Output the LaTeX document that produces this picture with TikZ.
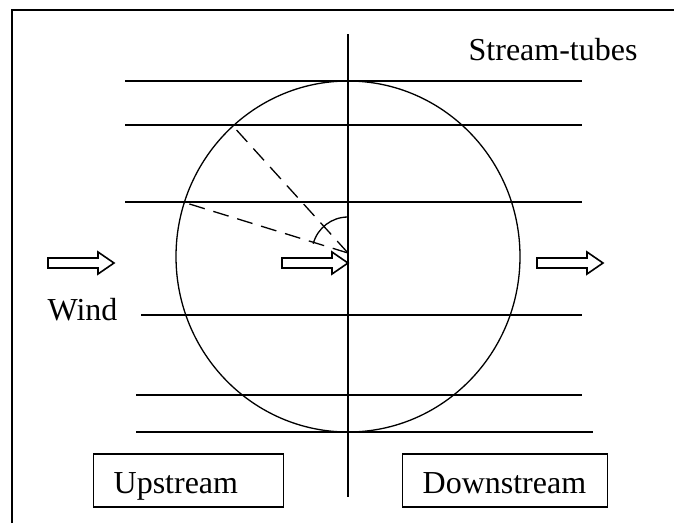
\documentclass[tikz,border=0pt]{standalone}
\usepackage{fontspec}
\setmainfont{Liberation Serif}
\begin{document}
\begin{tikzpicture}[x=1pt, y=-1pt, font=\fontsize{32}{38}\selectfont, line width=1.3pt, tube/.style={line width=1.4pt}, ray/.style={dash pattern=on 16pt off 9pt}, box/.style={draw, anchor=base west, inner xsep=20pt, inner ysep=0pt, text height=39pt, text depth=14pt, align=left}, flow/.pic={\draw[fill=white, line width=1.6pt] (0,-5) -- (50,-5) -- (50,-11) -- (66,0) -- (50,11) -- (50,5) -- (0,5) -- cycle;}]
\useasboundingbox (0,0) rectangle (674,523);
\draw[line width=1.8pt] (12,523) -- (12,10) -- (674,10);
\coordinate (rotor) at (348,256.5);
\coordinate (hub) at (348,253);
\draw (rotor) ellipse[x radius=172pt, y radius=175.5pt];
\draw (348,34) -- (348,497);
\draw[tube] (125,81) -- (582,81);
\draw[tube] (125,125) -- (582,125);
\draw[tube] (125,202) -- (582,202);
\draw[tube] (141,315) -- (582,315);
\draw[tube] (136,395) -- (582,395);
\draw[tube] (136,432) -- (593,432);
\coordinate (upper) at (232,125);
\coordinate (lower) at (183,202);
\draw[ray] (hub) -- (upper);
\draw[ray] (hub) -- (lower);
\draw (hub) ++(90:36pt) arc[start angle=90, end angle=165, radius=36pt];
\pic at (48,263) {flow};
\pic at (282,263) {flow};
\pic at (537,263) {flow};
\node[anchor=base west, inner sep=0] (tubes) at (468,60) {Stream-tubes};
\node[anchor=base west, inner sep=0] (wind) at (47,320) {Wind};
\node[box, text width=150pt] (up) at (93,493) {Upstream};
\node[box, text width=165pt] (down) at (402,493) {Downstream};
\end{tikzpicture}
\end{document}
